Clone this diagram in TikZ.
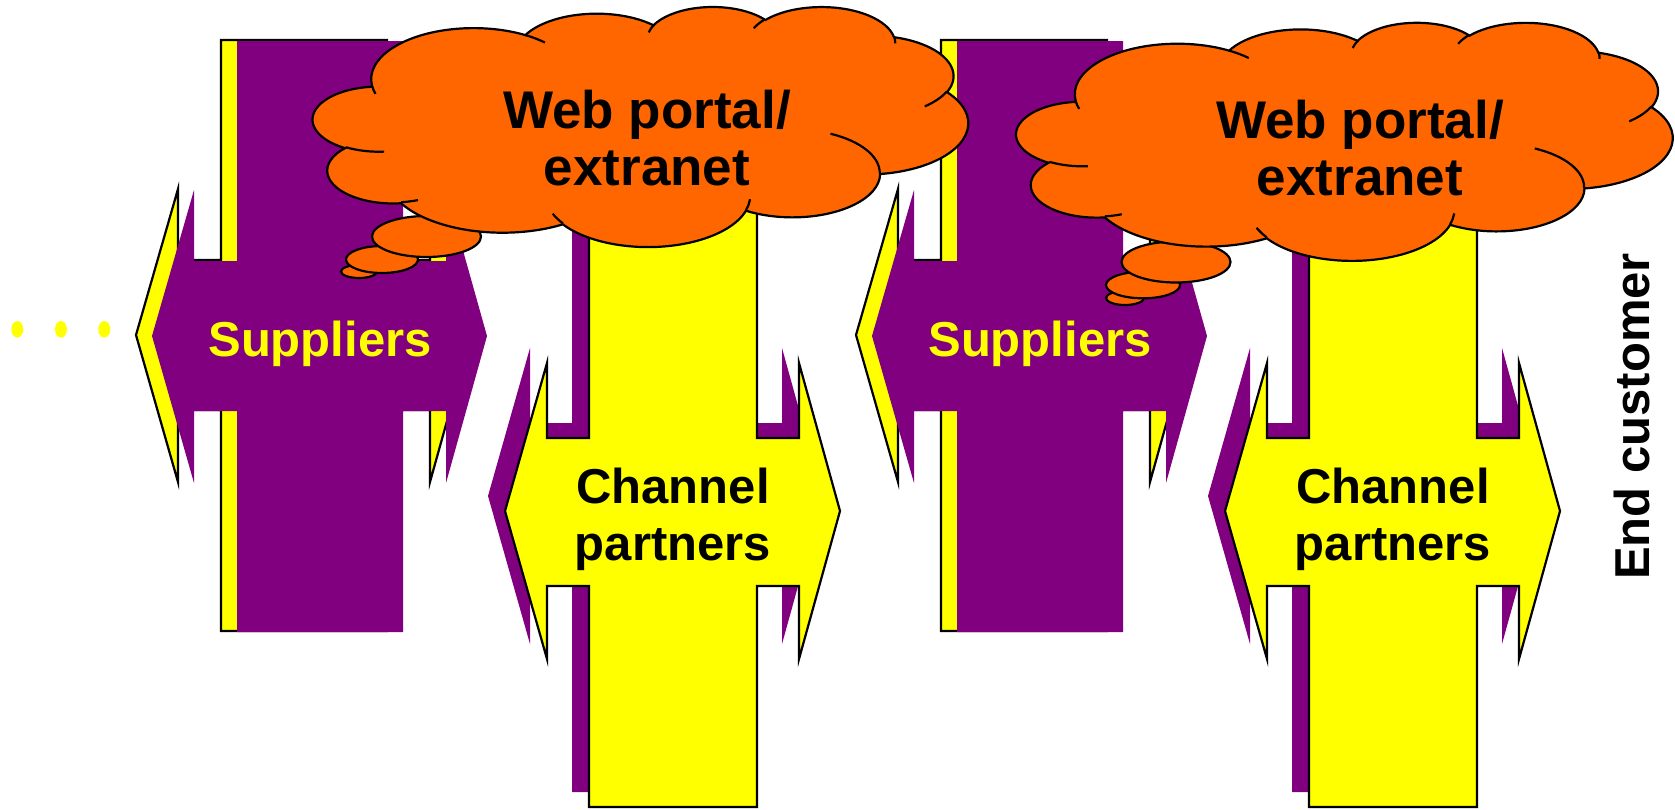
\documentclass[tikz,border=0pt]{standalone}
\usepackage{fontspec}
\setmainfont{Liberation Sans}
\definecolor{plum}{HTML}{800080}
\definecolor{lemon}{HTML}{FFFF00}
\definecolor{tangerine}{HTML}{FF6600}

% Outline of a "suppliers" cross: vertical bar plus a double-headed horizontal arrow
\newcommand\supplierpath{(237,41) -- (403,41) -- (403,261) -- (446,261) -- (446,190) -- (487,336)
  -- (446,483) -- (446,411) -- (403,411) -- (403,632) -- (237,632) -- (237,411) -- (194,411)
  -- (194,483) -- (152,336) -- (194,190) -- (194,261) -- (237,261) -- cycle}
% Outline of a "channel partners" cross
\newcommand\channelpath{(589,60) -- (757,60) -- (757,438) -- (799,438) -- (799,363) -- (840,511)
  -- (799,659) -- (799,586) -- (757,586) -- (757,807) -- (589,807) -- (589,586) -- (547,586)
  -- (547,659) -- (505,511) -- (547,363) -- (547,438) -- (589,438) -- cycle}
% Cloud outline on a 432 x 432 frame (y grows downwards), eleven elliptic lobes
\newcommand\cloudpath{(39.00,143.70)
  arc[start angle=187.747, end angle=59.64, x radius=67.53pt, y radius=91.90pt]
  arc[start angle=152.017, end angle=45.417, x radius=53.33pt, y radius=72.67pt]
  arc[start angle=153.49, end angle=37.316, x radius=43.65pt, y radius=59.45pt]
  arc[start angle=139.71, end angle=10.212, x radius=48.57pt, y radius=65.95pt]
  arc[start angle=74.768, end angle=-23.210, x radius=53.33pt, y radius=72.73pt]
  arc[start angle=37.524, end angle=-81.862, x radius=67.75pt, y radius=92.20pt]
  arc[start angle=-0.4596, end angle=-121.98, x radius=57.85pt, y radius=78.67pt]
  arc[start angle=-16.845, end angle=-146.245, x radius=67.52pt, y radius=92.15pt]
  arc[start angle=-58.985, end angle=-150.197, x radius=77.20pt, y radius=105.43pt]
  arc[start angle=276.694, end angle=136.864, x radius=43.60pt, y radius=59.18pt]
  arc[start angle=239.647, end angle=95.888, x radius=43.45pt, y radius=59.45pt]
  -- cycle}
% Inner creases of the cloud lobes
\newcommand\creasepath{
  (46.93,261.77) arc[start angle=-85.546, end angle=-120.353, x radius=43.45pt, y radius=59.45pt]
  (69.28,348.99) arc[start angle=-68.234, end angle=-83.306, x radius=43.60pt, y radius=59.18pt]
  (164.78,390.90) arc[start angle=-146.245, end angle=-158.474, x radius=67.52pt, y radius=92.15pt]
  (288.27,347.51) arc[start angle=-4.738, end angle=-16.845, x radius=67.52pt, y radius=92.15pt]
  (341.29,229.54) arc[start angle=64.033, end angle=-0.4596, x radius=57.85pt, y radius=78.67pt]
  (417.98,153.54) arc[start angle=-23.210, end angle=-49.626, x radius=53.33pt, y radius=72.73pt]
  (383.24,54.26) arc[start angle=10.212, end angle=-0.8209, x radius=48.57pt, y radius=65.95pt]
  (290.78,39.52) arc[start angle=156.284, end angle=139.71, x radius=48.57pt, y radius=65.95pt]
  (221.41,47.20) arc[start angle=167.726, end angle=153.49, x radius=43.65pt, y radius=59.45pt]
  (140.00,51.92) arc[start angle=59.64, end angle=45.753, x radius=67.53pt, y radius=91.90pt]
  (41.27,157.89) arc[start angle=-163.194, end angle=-172.253, x radius=67.53pt, y radius=91.90pt]}

\begin{document}
\begin{tikzpicture}[x=1pt, y=-1pt,
  outl/.style={draw=black, line width=2.2pt, line join=miter},
  bubble/.style={outl, fill=tangerine},
  lbl/.style={font=\bfseries\fontsize{49}{57}\selectfont, inner sep=0pt, anchor=base},
  cloudlbl/.style={font=\bfseries\fontsize{53}{60}\selectfont, inner sep=0pt, anchor=base},
  dotmark/.style={fill=lemon}]
\useasboundingbox (0,0) rectangle (1675,809);

% leading dots
\fill[dotmark] (17.3,329.3) ellipse [x radius=6pt, y radius=8.3pt];
\fill[dotmark] (61,329.3) ellipse [x radius=6pt, y radius=8.3pt];
\fill[dotmark] (104.3,329.3) ellipse [x radius=6pt, y radius=8.3pt];

% two stages of suppliers and channel partners
\foreach \dx/\i in {0/1,720/2}{
  \begin{scope}[shift={(\dx,0)}]
    \draw[outl, fill=lemon, shift={(-16,-1)}] \supplierpath;
    \fill[plum] \supplierpath;
    \node[lbl, text=lemon] (sup\i) at (320,356.7) {Suppliers};
    \fill[plum, shift={(-17,-15)}] \channelpath;
    \draw[outl, fill=lemon] \channelpath;
    \node[lbl] (chanA\i) at (673,503) {Channel};
    \node[lbl] (chanB\i) at (673,560) {partners};
  \end{scope}
}

% first thought cloud
\draw[bubble] (359,271.5) ellipse [x radius=18pt, y radius=6.5pt];
\draw[bubble] (382,259.5) ellipse [x radius=36pt, y radius=13.5pt];
\draw[bubble] (426.5,236.5) ellipse [x radius=54.5pt, y radius=20.5pt];
\begin{scope}[shift={(313,6.2)}, xscale=655/432, yscale=240/432]
  \draw[outl, fill=tangerine] \cloudpath;
  \draw[outl] \creasepath;
\end{scope}
\node[cloudlbl] (webA1) at (647,128) {Web portal/};
\node[cloudlbl] (webB1) at (647,185) {extranet};

% second thought cloud
\draw[bubble] (1125,298) ellipse [x radius=19pt, y radius=7pt];
\draw[bubble] (1143,285) ellipse [x radius=37pt, y radius=13.3pt];
\draw[bubble] (1176,262) ellipse [x radius=54.5pt, y radius=20.5pt];
\begin{scope}[shift={(1016.5,22)}, xscale=656/432, yscale=238/432]
  \draw[outl, fill=tangerine] \cloudpath;
  \draw[outl] \creasepath;
\end{scope}
\node[cloudlbl] (webA2) at (1360,138.3) {Web portal/};
\node[cloudlbl] (webB2) at (1360,195) {extranet};

% end of the chain
\node[lbl, rotate=90, anchor=base west] (endc) at (1649,580) {End customer};
\end{tikzpicture}
\end{document}
